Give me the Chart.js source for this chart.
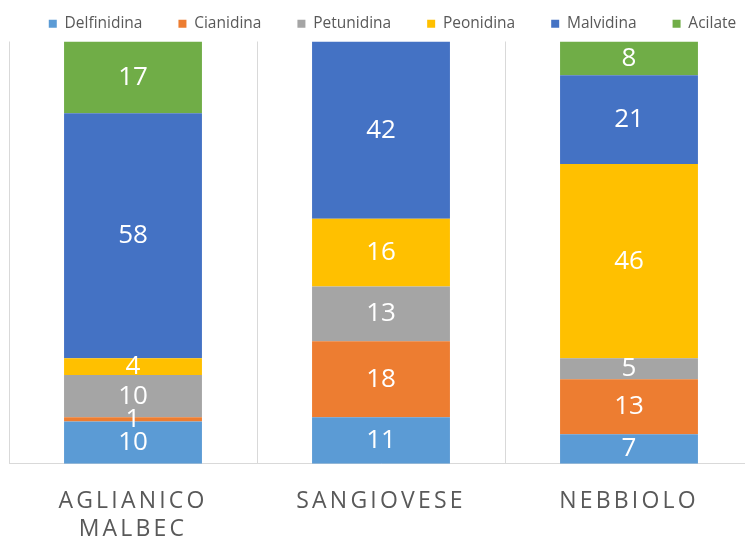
<!DOCTYPE html>
<html>
<head>
<meta charset="utf-8">
<script src="https://cdn.jsdelivr.net/npm/chart.js@4"></script>
<style>
  html, body { margin: 0; padding: 0; background: #fff; overflow: hidden; }
  #wrap { width: 745px; height: 542px; overflow: hidden; position: relative; }
  #anthocyanins { position: absolute; left: 0; top: -20px; }
</style>
</head>
<body>
<div id="wrap"><canvas id="anthocyanins" width="776" height="587"></canvas></div>
<script>
// categories and values (percent of total anthocyanins)
const categories = [['AGLIANICO', 'MALBEC'], 'SANGIOVESE', 'NEBBIOLO']
const delfinidina = [10, 11, 7]
const cianidina = [1, 18, 13]
const petunidina = [10, 13, 5]
const peonidina = [4, 16, 46]
const malvidina = [58, 42, 21]
const acilate = [17, 0, 8]

const GREY_TEXT = '#595959'
const GRID = '#d9d9d9'

const series = [
  { label: 'Delfinidina', data: delfinidina, color: '#5b9bd5' },
  { label: 'Cianidina', data: cianidina, color: '#ed7d31' },
  { label: 'Petunidina', data: petunidina, color: '#a5a5a5' },
  { label: 'Peonidina', data: peonidina, color: '#ffc000' },
  { label: 'Malvidina', data: malvidina, color: '#4472c4' },
  { label: 'Acilate', data: acilate, color: '#70ad47' },
]

// white value in the middle of every segment
const segmentLabels = {
  id: 'segmentLabels',
  afterDatasetsDraw(chart) {
    const ctx = chart.ctx
    ctx.save()
    ctx.fillStyle = '#fff'
    ctx.font = '26px "Open Sans"'
    ctx.textAlign = 'center'
    ctx.textBaseline = 'middle'
    chart.data.datasets.forEach((ds, i) => {
      chart.getDatasetMeta(i).data.forEach((bar, j) => {
        if (!ds.data[j]) return
        ctx.fillText(ds.data[j], bar.x, (bar.y + bar.base) / 2)
      })
    })
    ctx.restore()
  },
}

// excel spreads the category names out a bit
const spacedTicks = {
  id: 'spacedTicks',
  beforeDraw(chart) {
    const x = chart.scales.x
    if (x._spaced) return
    const draw = x.drawLabels.bind(x)
    x.drawLabels = area => {
      chart.ctx.save()
      chart.ctx.letterSpacing = '3.2px'
      draw(area)
      chart.ctx.restore()
    }
    x._spaced = true
  },
}

const ctxAnthocyanins = document.getElementById('anthocyanins').getContext('2d')
const anthocyaninChart = new Chart(ctxAnthocyanins, {
  type: 'bar',
  data: {
    labels: categories,
    datasets: series.map(s => ({
      label: s.label,
      data: s.data,
      backgroundColor: s.color,
      borderWidth: 0,
      categoryPercentage: 1,
      barPercentage: 0.556,
    })),
  },
  options: {
    responsive: false,
    animation: false,
    layout: { padding: { top: 0, left: 9, right: 0, bottom: 0 } },
    plugins: {
      tooltip: { enabled: false },
      legend: {
        position: 'top',
        labels: {
          boxWidth: 8,
          boxHeight: 8,
          padding: 36,
          color: GREY_TEXT,
          font: { family: 'Open Sans', size: 15.5 },
        },
      },
    },
    scales: {
      x: {
        stacked: true,
        grid: { color: GRID, lineWidth: 1, drawTicks: false },
        border: { color: GRID, width: 1 },
        ticks: {
          color: GREY_TEXT,
          padding: 24,
          font: { family: 'Open Sans', size: 23 },
        },
      },
      y: {
        stacked: true,
        display: false,
        min: 0,
        max: 100,
      },
      // empty strip on the right, keeps the plot narrower than the legend row
      yRight: {
        position: 'right',
        grid: { display: false },
        border: { display: false },
        ticks: { display: false },
        afterFit: scale => {
          scale.width = 23
        },
      },
    },
  },
  plugins: [segmentLabels, spacedTicks],
})
</script>
</body>
</html>
